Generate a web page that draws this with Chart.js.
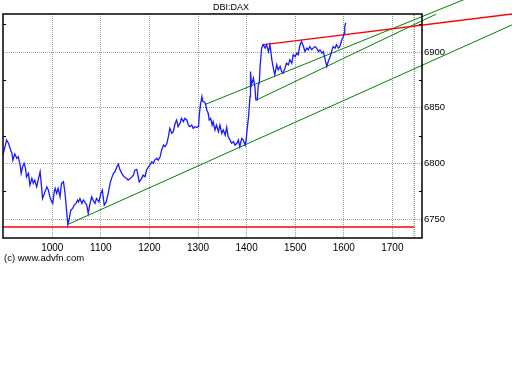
<!DOCTYPE html>
<html>
<head>
<meta charset="utf-8">
<script src="https://cdn.jsdelivr.net/npm/chart.js@4"></script>
<style>
  body { margin: 0; background: #fff; }
  #wrap { position: relative; width: 512px; height: 384px; }
  .txt { position: absolute; font-family: "Liberation Sans", Arial, sans-serif; color: #000; white-space: nowrap; }
  #title { left: 213px; top: 2px; font-size: 9px; }
  #copy { left: 4px; top: 252px; font-size: 9.5px; }
</style>
</head>
<body>
<div id="wrap">
  <canvas id="priceChart" width="512" height="384"></canvas>
  <div id="title" class="txt">DBI:DAX</div>
  <div id="copy" class="txt">(c) www.advfn.com</div>
</div>
<script>
// price series (bar number / index level)
var priceX = [
  898,901,906,910,913,917,919,921,923,927,
  930,934,936,939,942,945,947,951,954,958,
  961,964,968,971,975,978,980,985,989,992,
  995,999,1001,1004,1006,1009,1012,1016,1019,1023,
  1026,1030,1032,1035,1038,1042,1045,1049,1052,1054,
  1057,1061,1064,1067,1071,1074,1077,1081,1084,1088,
  1091,1096,1100,1103,1107,1111,1115,1119,1122,1126,
  1129,1133,1136,1139,1143,1148,1153,1156,1161,1167,
  1170,1174,1177,1179,1184,1187,1191,1194,1198,1201,
  1205,1208,1211,1215,1218,1222,1225,1229,1232,1236,
  1239,1242,1246,1249,1253,1256,1259,1263,1266,1270,
  1273,1277,1280,1283,1287,1290,1294,1297,1301,1303,
  1305,1308,1310,1312,1315,1318,1321,1323,1326,1329,
  1331,1335,1338,1342,1345,1349,1352,1356,1359,1362,
  1366,1369,1373,1376,1380,1383,1386,1390,1393,1397,
  1399,1401,1404,1407,1408,1410,1414,1417,1419,1422,
  1424,1426,1428,1431,1434,1438,1441,1445,1448,1452,
  1455,1458,1462,1465,1469,1472,1475,1479,1482,1486,
  1489,1493,1496,1500,1503,1506,1510,1513,1517,1520,
  1524,1527,1530,1534,1537,1541,1544,1548,1551,1555,
  1558,1561,1565,1568,1572,1575,1578,1582,1585,1589,
  1592,1596,1599,1601,1602,1604
];
var priceY = [
  6807.6,6812.1,6821.1,6818.1,6813.7,6809.2,6803.1,6806.1,6808.5,6804.7,
  6806.1,6798.6,6791.2,6797.1,6800.2,6795.7,6788.1,6791.2,6780.7,6786.7,
  6782.2,6785.2,6779.1,6785.2,6792.6,6779.1,6768.7,6774.6,6779.1,6776.2,
  6770.1,6765.6,6764.2,6774.6,6777.7,6773.2,6777.7,6770.1,6782.2,6783.6,
  6774.6,6755.2,6745.3,6750.7,6758.2,6759.7,6762.7,6764.2,6767.2,6765.6,
  6768.7,6764.2,6767.2,6765.6,6762.7,6755.2,6762.7,6770.1,6767.2,6764.2,
  6768.7,6765.6,6773.2,6776.2,6762.7,6765.6,6773.2,6782.2,6786.7,6791.2,
  6792.6,6797.1,6799.5,6794.8,6791.2,6788.1,6786.7,6785.2,6786.7,6789.6,
  6794.1,6794.8,6788.1,6783.6,6786.7,6789.6,6788.1,6794.2,6797.1,6798.6,
  6801.6,6800.2,6803.1,6804.7,6803.1,6806.1,6812.1,6816.6,6815.1,6818.2,
  6824.1,6831.6,6827.1,6828.6,6836.1,6839.1,6833.1,6836.1,6840.6,6837.6,
  6840.6,6839.1,6834.6,6833.1,6834.6,6831.6,6833.1,6832.5,6833.1,6845.1,
  6852.6,6860.1,6855.6,6855.6,6854.1,6848.1,6845.1,6839.1,6840.6,6834.6,
  6837.6,6830.1,6834.6,6828.6,6834.6,6827.1,6830.1,6825.6,6832.5,6824.1,
  6821.1,6818.2,6819.6,6816.6,6818.2,6821.1,6815.1,6822.6,6821.1,6816.6,
  6821.1,6830.1,6842.1,6860.1,6882.6,6870.6,6876.6,6869.1,6857.1,6857.1,
  6870.6,6872.1,6888.6,6903.6,6906.6,6903.6,6906.6,6900.5,6906.6,6893.1,
  6885.6,6879.6,6888.6,6884.1,6887.1,6882.6,6881.1,6885.6,6890.1,6888.6,
  6893.1,6890.1,6897.6,6896.0,6899.1,6897.6,6906.6,6909.5,6905.0,6900.5,
  6903.6,6902.1,6905.0,6902.1,6903.6,6905.0,6903.6,6900.5,6902.1,6899.1,
  6900.5,6894.6,6887.1,6891.5,6896.0,6900.5,6905.0,6903.6,6906.6,6903.6,
  6905.0,6911.1,6914.0,6917.1,6923.0,6926.1
];

// trend lines (start / end)
var resistX = [1432, 1960], resistY = [6906.5, 6934.9];
var supportX = [898.6, 1745], supportY = [6743.1, 6743.1];
var chanLowX = [1031.7, 1960], chanLowY = [6745.3, 6927.1];
var chanMidX = [1315.6, 1850], chanMidY = [6853.2, 6947.6];
var chanHighX = [1420.5, 1790], chanHighY = [6857.1, 6934.1];
var markerX = 1745;

// axes
var xMin = 898.6, xMax = 1761;
var yMin = 6733.2, yMax = 6934.2;
var xTicks = [1000, 1100, 1200, 1300, 1400, 1500, 1600, 1700];
var yTicks = [6750, 6775, 6800, 6825, 6850, 6875, 6900, 6925];

function pts(xs, ys) {
  return xs.map(function (x, i) { return { x: x, y: ys[i] }; });
}

function trend(data, color) {
  return {
    data: data,
    borderColor: color,
    borderWidth: color == '#ff0000' ? 1.5 : 1,
    pointRadius: 0,
    clip: false,
    order: 1
  };
}

// frame round the plot + small inner ticks on the value axis
var framePlugin = {
  id: 'frame',
  afterDraw: function (chart) {
    var ctx = chart.ctx, a = chart.chartArea, y = chart.scales.y;
    ctx.save();
    ctx.setLineDash([]);
    ctx.strokeStyle = '#000';
    ctx.lineWidth = 1.5;
    ctx.strokeRect(a.left, a.top, a.right - a.left, a.bottom - a.top);
    ctx.lineWidth = 1;
    yTicks.forEach(function (v) {
      if (v % 50 == 0) return;
      var py = Math.round(y.getPixelForValue(v)) + 0.5;
      ctx.beginPath();
      ctx.moveTo(a.left, py); ctx.lineTo(a.left + 3, py);
      ctx.moveTo(a.right - 3, py); ctx.lineTo(a.right, py);
      ctx.stroke();
    });
    ctx.restore();
  }
};

var ctx = document.getElementById('priceChart').getContext('2d');
var priceChart = new Chart(ctx, {
  type: 'line',
  data: {
    datasets: [
      {
        data: pts(priceX, priceY),
        borderColor: '#1a1aff',
        borderWidth: 1.3,
        pointRadius: 0,
        tension: 0,
        order: 0
      },
      trend(pts(resistX, resistY), '#ff0000'),
      trend(pts(supportX, supportY), '#ff0000'),
      trend(pts(chanLowX, chanLowY), '#008000'),
      trend(pts(chanMidX, chanMidY), '#008000'),
      trend(pts(chanHighX, chanHighY), '#008000'),
      {
        data: [{ x: markerX, y: yMin }, { x: markerX, y: yMax }],
        borderColor: '#607070',
        borderWidth: 1,
        borderDash: [1, 1],
        pointRadius: 0,
        order: 2
      }
    ]
  },
  options: {
    responsive: false,
    animation: false,
    layout: { padding: { left: 3, top: 14, right: 0, bottom: 0 } },
    plugins: { legend: { display: false }, tooltip: { enabled: false } },
    scales: {
      x: {
        type: 'linear',
        min: xMin,
        max: xMax,
        afterBuildTicks: function (s) { s.ticks = xTicks.map(function (v) { return { value: v }; }); },
        afterFit: function (s) { s.height = 146; },
        grid: { color: '#8aa8a8', drawTicks: false },
        border: { display: false, dash: [1, 1] },
        ticks: {
          padding: 4,
          maxRotation: 0,
          color: '#000',
          font: { family: 'Liberation Sans', size: 10 },
          callback: function (v) { return String(v); }
        }
      },
      y: {
        position: 'right',
        min: yMin,
        max: yMax,
        afterBuildTicks: function (s) { s.ticks = yTicks.map(function (v) { return { value: v }; }); },
        afterFit: function (s) { s.width = 90; },
        grid: {
          drawTicks: false,
          color: function (c) { return c.tick && c.tick.value % 50 == 0 ? '#a0a0a0' : 'rgba(0,0,0,0)'; }
        },
        border: { display: false, dash: [1, 1] },
        ticks: {
          padding: 2,
          color: '#000',
          font: { family: 'Liberation Sans', size: 9.5 },
          callback: function (v) { return v % 50 == 0 ? String(v) : ''; }
        }
      }
    }
  },
  plugins: [framePlugin]
});
</script>
</body>
</html>
